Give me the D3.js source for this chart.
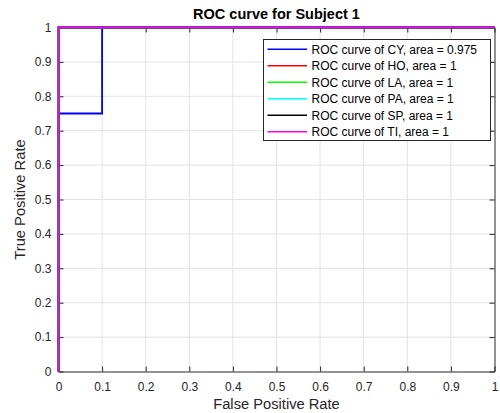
<!DOCTYPE html>
<html>
<head>
<meta charset="utf-8">
<script src="https://cdn.jsdelivr.net/npm/d3@7"></script>
<style>
  body { margin: 0; background: #fff; }
  svg { font-family: "Liberation Sans", Arial, sans-serif; }
</style>
</head>
<body>
<div class="canvas"></div>
<script>
// ROC curves, one per class
const classes = ["CY", "HO", "LA", "PA", "SP", "TI"];
const areas = ["0.975", "1", "1", "1", "1", "1"];
const colors = ["#0000ff", "#ff0000", "#00ff00", "#00ffff", "#000000", "#ff00ff"];
const fprCY = [0, 0, 0.1, 0.1, 1];
const tprCY = [0, 0.75, 0.75, 1, 1];
const fprPerfect = [0, 0, 1];
const tprPerfect = [0, 1, 1];
const ticks = [0, 0.1, 0.2, 0.3, 0.4, 0.5, 0.6, 0.7, 0.8, 0.9, 1];

const curves = classes.map((c, i) => {
  const fx = i === 0 ? fprCY : fprPerfect;
  const ty = i === 0 ? tprCY : tprPerfect;
  return { name: c, area: areas[i], color: colors[i], pts: fx.map((v, j) => [v, ty[j]]) };
});

const W = 500, H = 413;
const mLeft = 58.5, mRight = 494.5, mTop = 27.5, mBottom = 371.5;

const svg = d3.select(".canvas")
  .append("svg")
  .attr("width", W)
  .attr("height", H);

const x = d3.scaleLinear().domain([0, 1]).range([mLeft, mRight]);
const y = d3.scaleLinear().domain([0, 1]).range([mBottom, mTop]);

// grid
const grid = svg.append("g");
grid.selectAll("line.gx")
  .data(ticks.slice(1, -1))
  .enter().append("line")
  .attr("x1", d => x(d)).attr("x2", d => x(d))
  .attr("y1", mTop).attr("y2", mBottom)
  .attr("stroke", "#e3e3e3").attr("stroke-width", 1);
grid.selectAll("line.gy")
  .data(ticks.slice(1, -1))
  .enter().append("line")
  .attr("y1", d => y(d)).attr("y2", d => y(d))
  .attr("x1", mLeft).attr("x2", mRight)
  .attr("stroke", "#e3e3e3").attr("stroke-width", 1);

// axes (ticks inward, box)
const tickLen = 5;
const xAxis = svg.append("g")
  .attr("transform", `translate(0,${mBottom})`)
  .call(d3.axisBottom(x).tickValues(ticks).tickFormat(d3.format("")).tickSizeInner(-tickLen).tickSizeOuter(0).tickPadding(10.5));
const xAxisTop = svg.append("g")
  .attr("transform", `translate(0,${mTop})`)
  .call(d3.axisTop(x).tickValues(ticks).tickFormat("").tickSizeInner(-tickLen).tickSizeOuter(0));
const yAxis = svg.append("g")
  .attr("transform", `translate(${mLeft},0)`)
  .call(d3.axisLeft(y).tickValues(ticks).tickFormat(d3.format("")).tickSizeInner(-tickLen).tickSizeOuter(0).tickPadding(7));
const yAxisRight = svg.append("g")
  .attr("transform", `translate(${mRight},0)`)
  .call(d3.axisRight(y).tickValues(ticks).tickFormat("").tickSizeInner(-tickLen).tickSizeOuter(0));

[xAxis, xAxisTop, yAxis, yAxisRight].forEach(g => {
  g.selectAll("path").attr("stroke", "#262626");
  g.selectAll("line").attr("stroke", "#262626");
  g.selectAll("text")
    .attr("fill", "#262626")
    .style("font-size", "12px")
    .style("font-family", "Liberation Sans, Arial, sans-serif");
});

// curves
const line = d3.line().x(d => x(d[0])).y(d => y(d[1]));
svg.append("g")
  .selectAll("path")
  .data(curves)
  .enter().append("path")
  .attr("d", d => line(d.pts))
  .attr("fill", "none")
  .attr("stroke", d => d.color)
  .attr("stroke-width", 1.8);

// titles
svg.append("text")
  .attr("x", (mLeft + mRight) / 2).attr("y", 19)
  .attr("text-anchor", "middle")
  .style("font-size", "14.5px").style("font-weight", "bold")
  .attr("fill", "#000")
  .text("ROC curve for Subject 1");
svg.append("text")
  .attr("x", (mLeft + mRight) / 2).attr("y", 409)
  .attr("text-anchor", "middle")
  .style("font-size", "14.7px")
  .attr("fill", "#262626")
  .text("False Positive Rate");
svg.append("text")
  .attr("transform", `translate(25,${(mTop + mBottom) / 2}) rotate(-90)`)
  .attr("text-anchor", "middle")
  .style("font-size", "14.7px")
  .attr("fill", "#262626")
  .text("True Positive Rate");

// legend
const lg = svg.append("g").attr("transform", "translate(263.5,39.5)");
lg.append("rect")
  .attr("width", 227).attr("height", 101)
  .attr("fill", "#fff").attr("stroke", "#262626").attr("stroke-width", 1);
const rows = lg.selectAll("g.row")
  .data(curves)
  .enter().append("g")
  .attr("transform", (d, i) => `translate(0,${9.8 + i * 16.5})`);
rows.append("line")
  .attr("x1", 4).attr("x2", 43.5)
  .attr("stroke", d => d.color).attr("stroke-width", 1.5);
rows.append("text")
  .attr("x", 48).attr("dy", "0.35em")
  .style("font-size", "12px")
  .attr("fill", "#000")
  .text(d => `ROC curve of ${d.name}, area = ${d.area}`);
</script>
</body>
</html>
